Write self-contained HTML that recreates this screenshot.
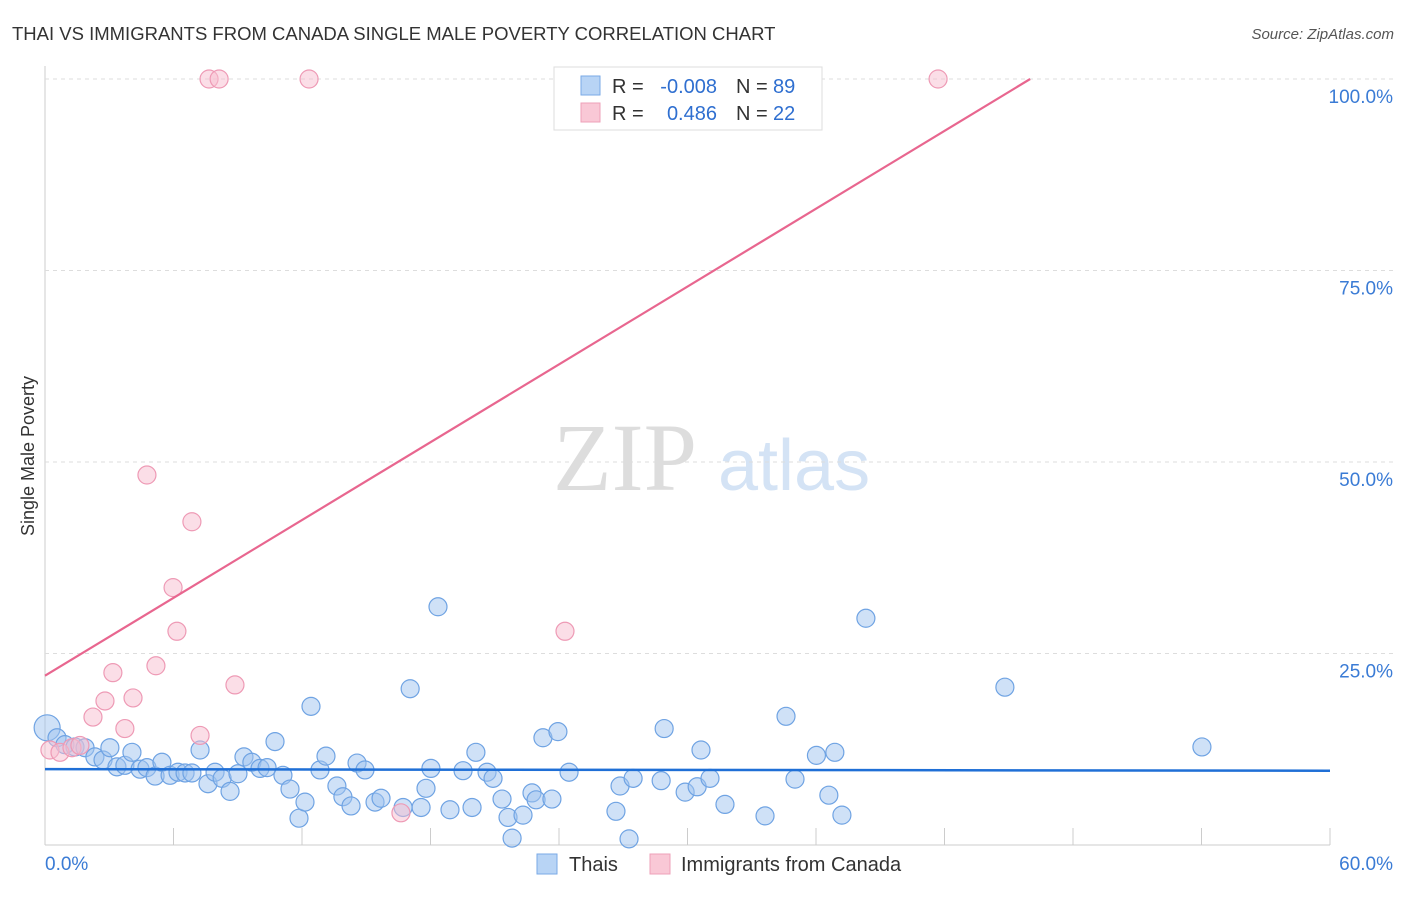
<!DOCTYPE html>
<html><head><meta charset="utf-8"><style>
body{margin:0;background:#fff;font-family:"Liberation Sans",sans-serif}
#wrap{position:relative;width:1406px;height:892px}
</style></head><body>
<div id="wrap">
<svg id="svg" width="1406" height="892" xmlns="http://www.w3.org/2000/svg">
<text x="12" y="40" font-size="18.5" fill="#333">THAI VS IMMIGRANTS FROM CANADA SINGLE MALE POVERTY CORRELATION CHART</text>
<text x="1394" y="39" font-size="15" fill="#555" text-anchor="end" font-style="italic">Source: ZipAtlas.com</text>
<text x="34" y="456" font-size="18" fill="#333" text-anchor="middle" transform="rotate(-90 34 456)">Single Male Poverty</text>
<text x="553" y="490" font-size="96" fill="#ddd" font-family="Liberation Serif">ZIP</text>
<text x="718" y="490" font-size="72" fill="#d4e3f5">atlas</text>
<g id="grid"></g><g id="pts"></g><g id="lines"></g>
<g font-size="20" fill="#333">
<rect x="554" y="67" width="268" height="63" fill="#fff" stroke="#ddd"/>
<rect x="581" y="76" width="19" height="19" fill="#b8d4f5" stroke="#7aaae6"/>
<rect x="581" y="103" width="19" height="19" fill="#f9c8d6" stroke="#eea0b8"/>
<text x="612" y="93">R =</text><text x="717" y="93" text-anchor="end" fill="#2f6fd0">-0.008</text>
<text x="736" y="93">N =</text><text x="773" y="93" fill="#2f6fd0">89</text>
<text x="612" y="120">R =</text><text x="717" y="120" text-anchor="end" fill="#2f6fd0">0.486</text>
<text x="736" y="120">N =</text><text x="773" y="120" fill="#2f6fd0">22</text>
</g>
<g>
<rect x="537" y="854" width="20" height="20" fill="#b8d4f5" stroke="#7aaae6"/>
<text x="569" y="871" font-size="20" fill="#333">Thais</text>
<rect x="650" y="854" width="20" height="20" fill="#f9c8d6" stroke="#eea0b8"/>
<text x="681" y="871" font-size="20" fill="#333">Immigrants from Canada</text>
</g>
</svg></div>
<script>
const xTicks=[0,60];
const yTicks=[25,50,75,100];
const thaiX=[0.1,0.56,0.93,1.4,1.87,2.33,2.71,3.03,3.36,3.73,4.06,4.44,4.76,5.14,5.46,5.84,6.21,6.54,6.86,7.24,7.61,7.94,8.27,8.64,9.01,9.29,9.66,10.04,10.37,10.74,11.11,11.44,11.86,12.14,12.42,12.84,13.12,13.63,13.91,14.29,14.57,14.94,15.41,15.69,16.72,17.05,17.56,17.79,18.02,18.35,18.91,19.52,19.94,20.12,20.64,20.92,21.34,21.62,21.81,22.32,22.74,22.93,23.25,23.67,23.95,24.47,26.66,26.85,27.27,27.46,28.77,28.91,29.89,30.45,30.63,31.05,31.75,33.62,34.6,35.02,36.02,36.6,36.88,37.21,38.33,44.82,54.02],
thaiY=[15.3,14.0,13.1,12.8,12.7,11.5,11.1,12.7,10.2,10.4,12.1,9.9,10.1,9.0,10.8,9.1,9.5,9.4,9.4,12.4,8.0,9.5,8.7,7.0,9.3,11.5,10.8,10.0,10.1,13.5,9.1,7.3,3.5,5.6,18.1,9.8,11.6,7.7,6.3,5.1,10.7,9.8,5.6,6.1,4.9,20.4,4.9,7.4,10.0,31.1,4.6,9.7,4.9,12.1,9.5,8.7,6.0,3.6,0.9,3.9,6.8,5.9,14.0,6.0,14.8,9.5,4.4,7.7,0.8,8.7,8.4,15.2,6.9,7.6,12.4,8.7,5.3,3.8,16.8,8.6,11.7,6.5,12.1,3.9,29.6,20.6,12.8];
const canX=[7.66,8.13,12.33,41.7,4.76,6.86,5.98,6.16,5.18,3.17,8.87,2.8,4.11,2.24,3.73,7.24,24.28,16.62,0.23,0.7,1.26,1.63],
canY=[100,100,100,100,48.3,42.2,33.6,27.9,23.4,22.5,20.9,18.8,19.2,16.7,15.2,14.3,27.9,4.2,12.4,12.1,12.7,13.0];
const thaiTrend=[9.9,9.7], canTrend=[22.1,100], canTrendEnd=46.0;
const X=v=>45+v/60*1285, Y=v=>845-v/100*766;
const NS="http://www.w3.org/2000/svg";
function mk(t,a,p){const e=document.createElementNS(NS,t);for(const k in a)e.setAttribute(k,a[k]);p.appendChild(e);return e;}
const g=document.getElementById('grid');
mk('line',{x1:45,y1:66,x2:45,y2:845,stroke:'#ccc'},g);
mk('line',{x1:45,y1:845,x2:1330,y2:845,stroke:'#ccc'},g);
for(let i=1;i<=10;i++){const x=X(i*6);mk('line',{x1:x,y1:828,x2:x,y2:845,stroke:'#ccc'},g);}
yTicks.forEach(t=>{const l=mk('line',{x1:45,y1:Y(t),x2:1395,y2:Y(t),stroke:'#ddd','stroke-dasharray':'4,4'},g);


const tx=mk('text',{x:1393,y:Y(t)+24,'font-size':19,fill:'#3a7bd5','text-anchor':'end'},g);tx.textContent=t.toFixed(1)+'%';

});
xTicks.forEach((t,i)=>{const tx=mk('text',{x:i?1393:45,y:870,'font-size':19,fill:'#3a7bd5','text-anchor':i?'end':'start'},g);tx.textContent=t.toFixed(1)+'%';

});
const p=document.getElementById('pts');
thaiX.forEach((x,i)=>{const c=mk('circle',{cx:X(x),cy:Y(thaiY[i]),r:i==0?13:9,fill:'rgba(160,196,240,0.5)',stroke:'#6fa3e3','stroke-width':1.2},p);

});
canX.forEach((x,i)=>{const c=mk('circle',{cx:X(x),cy:Y(canY[i]),r:9,fill:'rgba(248,190,208,0.5)',stroke:'#ee9ab5','stroke-width':1.2},p);

});
const L=document.getElementById('lines');
const a=mk('line',{x1:X(0),y1:Y(thaiTrend[0]),x2:X(60),y2:Y(thaiTrend[1]),stroke:'#1f6fd6','stroke-width':2.5},L);


const b=mk('line',{x1:X(0),y1:Y(canTrend[0]),x2:X(canTrendEnd),y2:Y(canTrend[1]),stroke:'#e8668f','stroke-width':2.2},L);


</script></body></html>
